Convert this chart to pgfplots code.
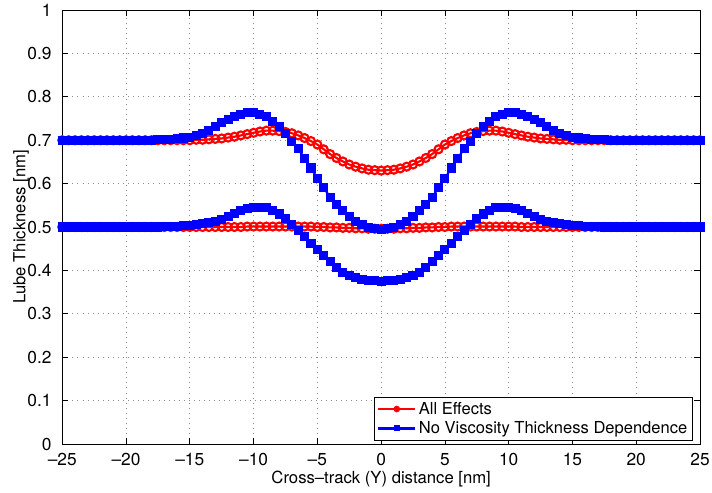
\documentclass[border=0pt]{standalone}
\usepackage{fontspec}
\setmainfont{TeX Gyre Heros}
\usepackage{pgfplots}
\usepackage{pgfplotstable}
\pgfplotsset{compat=1.18}

\pgfplotstableread{
x rt rb bt bb
-25 0.700 0.500 0.700 0.500
-24.5 0.700 0.500 0.700 0.500
-24 0.700 0.500 0.700 0.500
-23.5 0.700 0.500 0.700 0.500
-23 0.700 0.500 0.700 0.500
-22.5 0.700 0.500 0.700 0.500
-22 0.700 0.500 0.700 0.500
-21.5 0.700 0.500 0.700 0.500
-21 0.700 0.500 0.700 0.500
-20.5 0.700 0.500 0.700 0.500
-20 0.700 0.500 0.700 0.500
-19.5 0.700 0.500 0.700 0.500
-19 0.700 0.500 0.700 0.500
-18.5 0.700 0.500 0.700 0.500
-18 0.700 0.500 0.700 0.500
-17.5 0.700 0.500 0.701 0.500
-17 0.700 0.500 0.701 0.501
-16.5 0.700 0.500 0.702 0.501
-16 0.700 0.500 0.703 0.502
-15.5 0.700 0.500 0.705 0.503
-15 0.700 0.500 0.707 0.504
-14.5 0.701 0.500 0.711 0.506
-14 0.701 0.500 0.716 0.508
-13.5 0.702 0.500 0.723 0.510
-13 0.703 0.500 0.731 0.513
-12.5 0.704 0.500 0.740 0.518
-12 0.706 0.500 0.748 0.524
-11.5 0.708 0.500 0.755 0.531
-11 0.711 0.500 0.760 0.538
-10.5 0.714 0.501 0.763 0.543
-10 0.717 0.501 0.763 0.545
-9.5 0.720 0.501 0.760 0.546
-9 0.722 0.501 0.754 0.544
-8.5 0.722 0.501 0.744 0.539
-8 0.721 0.501 0.731 0.530
-7.5 0.719 0.501 0.715 0.519
-7 0.716 0.501 0.698 0.505
-6.5 0.711 0.501 0.680 0.492
-6 0.705 0.501 0.658 0.478
-5.5 0.698 0.501 0.636 0.463
-5 0.690 0.500 0.612 0.448
-4.5 0.679 0.500 0.590 0.434
-4 0.668 0.499 0.569 0.420
-3.5 0.659 0.499 0.552 0.407
-3 0.651 0.498 0.537 0.396
-2.5 0.644 0.498 0.524 0.388
-2 0.639 0.497 0.513 0.383
-1.5 0.635 0.497 0.505 0.379
-1 0.632 0.496 0.499 0.377
-0.5 0.631 0.496 0.496 0.376
0 0.630 0.496 0.495 0.375
0.5 0.631 0.496 0.496 0.376
1 0.632 0.496 0.499 0.377
1.5 0.635 0.497 0.505 0.379
2 0.639 0.497 0.513 0.383
2.5 0.644 0.498 0.524 0.388
3 0.651 0.498 0.537 0.396
3.5 0.659 0.499 0.552 0.407
4 0.668 0.499 0.569 0.420
4.5 0.679 0.500 0.590 0.434
5 0.690 0.500 0.612 0.448
5.5 0.698 0.501 0.636 0.463
6 0.705 0.501 0.658 0.478
6.5 0.711 0.501 0.680 0.492
7 0.716 0.501 0.698 0.505
7.5 0.719 0.501 0.715 0.519
8 0.721 0.501 0.731 0.530
8.5 0.722 0.501 0.744 0.539
9 0.722 0.501 0.754 0.544
9.5 0.720 0.501 0.760 0.546
10 0.717 0.501 0.763 0.545
10.5 0.714 0.501 0.763 0.543
11 0.711 0.500 0.760 0.538
11.5 0.708 0.500 0.755 0.531
12 0.706 0.500 0.748 0.524
12.5 0.704 0.500 0.740 0.518
13 0.703 0.500 0.731 0.513
13.5 0.702 0.500 0.723 0.510
14 0.701 0.500 0.716 0.508
14.5 0.701 0.500 0.711 0.506
15 0.700 0.500 0.707 0.504
15.5 0.700 0.500 0.705 0.503
16 0.700 0.500 0.703 0.502
16.5 0.700 0.500 0.702 0.501
17 0.700 0.500 0.701 0.501
17.5 0.700 0.500 0.701 0.500
18 0.700 0.500 0.700 0.500
18.5 0.700 0.500 0.700 0.500
19 0.700 0.500 0.700 0.500
19.5 0.700 0.500 0.700 0.500
20 0.700 0.500 0.700 0.500
20.5 0.700 0.500 0.700 0.500
21 0.700 0.500 0.700 0.500
21.5 0.700 0.500 0.700 0.500
22 0.700 0.500 0.700 0.500
22.5 0.700 0.500 0.700 0.500
23 0.700 0.500 0.700 0.500
23.5 0.700 0.500 0.700 0.500
24 0.700 0.500 0.700 0.500
24.5 0.700 0.500 0.700 0.500
25 0.700 0.500 0.700 0.500
}\datatable

\begin{document}
\begin{tikzpicture}
\begin{axis}[
  name=ax,
  scale only axis,
  width=478.3pt, height=325.5pt,
  xmin=-25, xmax=25, ymin=0, ymax=1,
  xtick={-25,-20,...,25},
  xticklabels={--25,--20,--15,--10,--5,0,5,10,15,20,25},
  ytick={0,0.1,...,1},
  yticklabels={0,0.1,0.2,0.3,0.4,0.5,0.6,0.7,0.8,0.9,1},
  tick align=inside,
  major tick length=4.5pt,
  tick style={black, line width=0.5pt},
  axis line style={black, line width=0.6pt},
  grid=major,
  major grid style={gray!90, line width=0.5pt, dash pattern=on 0.6pt off 3.2pt},
  tick label style={font=\fontsize{13}{15}\selectfont},
  every tick label/.append style={font=\fontsize{13}{15}\selectfont},
  xticklabel style={yshift=-3.5pt},
  yticklabel style={xshift=-4.5pt},
  /pgf/number format/assume math mode=true,
  xlabel={Cross--track (Y) distance [nm]},
  ylabel={Lube Thickness [nm]},
  label style={font=\fontsize{12.5}{15}\selectfont},
  xlabel style={at={(axis description cs:0.5,-0.0906)}, anchor=base},
  ylabel style={at={(axis description cs:-0.058,0.5)}, anchor=base},
  clip=false,
  legend cell align=left,
  legend image code/.code={
    \draw[#1, mark repeat=2, mark phase=2, mark options={scale=0.55}] plot coordinates {(0pt,0pt) (13.75pt,0pt) (27.5pt,0pt)};
  },
  legend style={at={(axis description cs:1,0)}, anchor=south east,
    xshift=-5.25pt, yshift=2.6pt, draw=black, line width=0.6pt, fill=white,
    font=\fontsize{12.4}{14}\selectfont, inner xsep=2pt, inner ysep=1.5pt,
    row sep=0pt},
]
\addplot[red, line width=1.6pt, mark=o, mark size=3.0pt] table[x=x, y=rt] {\datatable};
\addlegendentry{All Effects}
\addplot[red, line width=1.6pt, mark=o, mark size=3.0pt, forget plot] table[x=x, y=rb] {\datatable};
\addplot[blue, line width=1.6pt, mark=square*, mark size=2.6pt] table[x=x, y=bt] {\datatable};
\addlegendentry{No Viscosity Thickness Dependence}
\addplot[blue, line width=1.6pt, mark=square*, mark size=2.6pt, forget plot] table[x=x, y=bb] {\datatable};
\end{axis}
\pgfresetboundingbox
\useasboundingbox ([xshift=-46.7pt,yshift=-36pt]ax.south west) rectangle ([xshift=9pt,yshift=7.5pt]ax.north east);
\end{tikzpicture}
\end{document}
